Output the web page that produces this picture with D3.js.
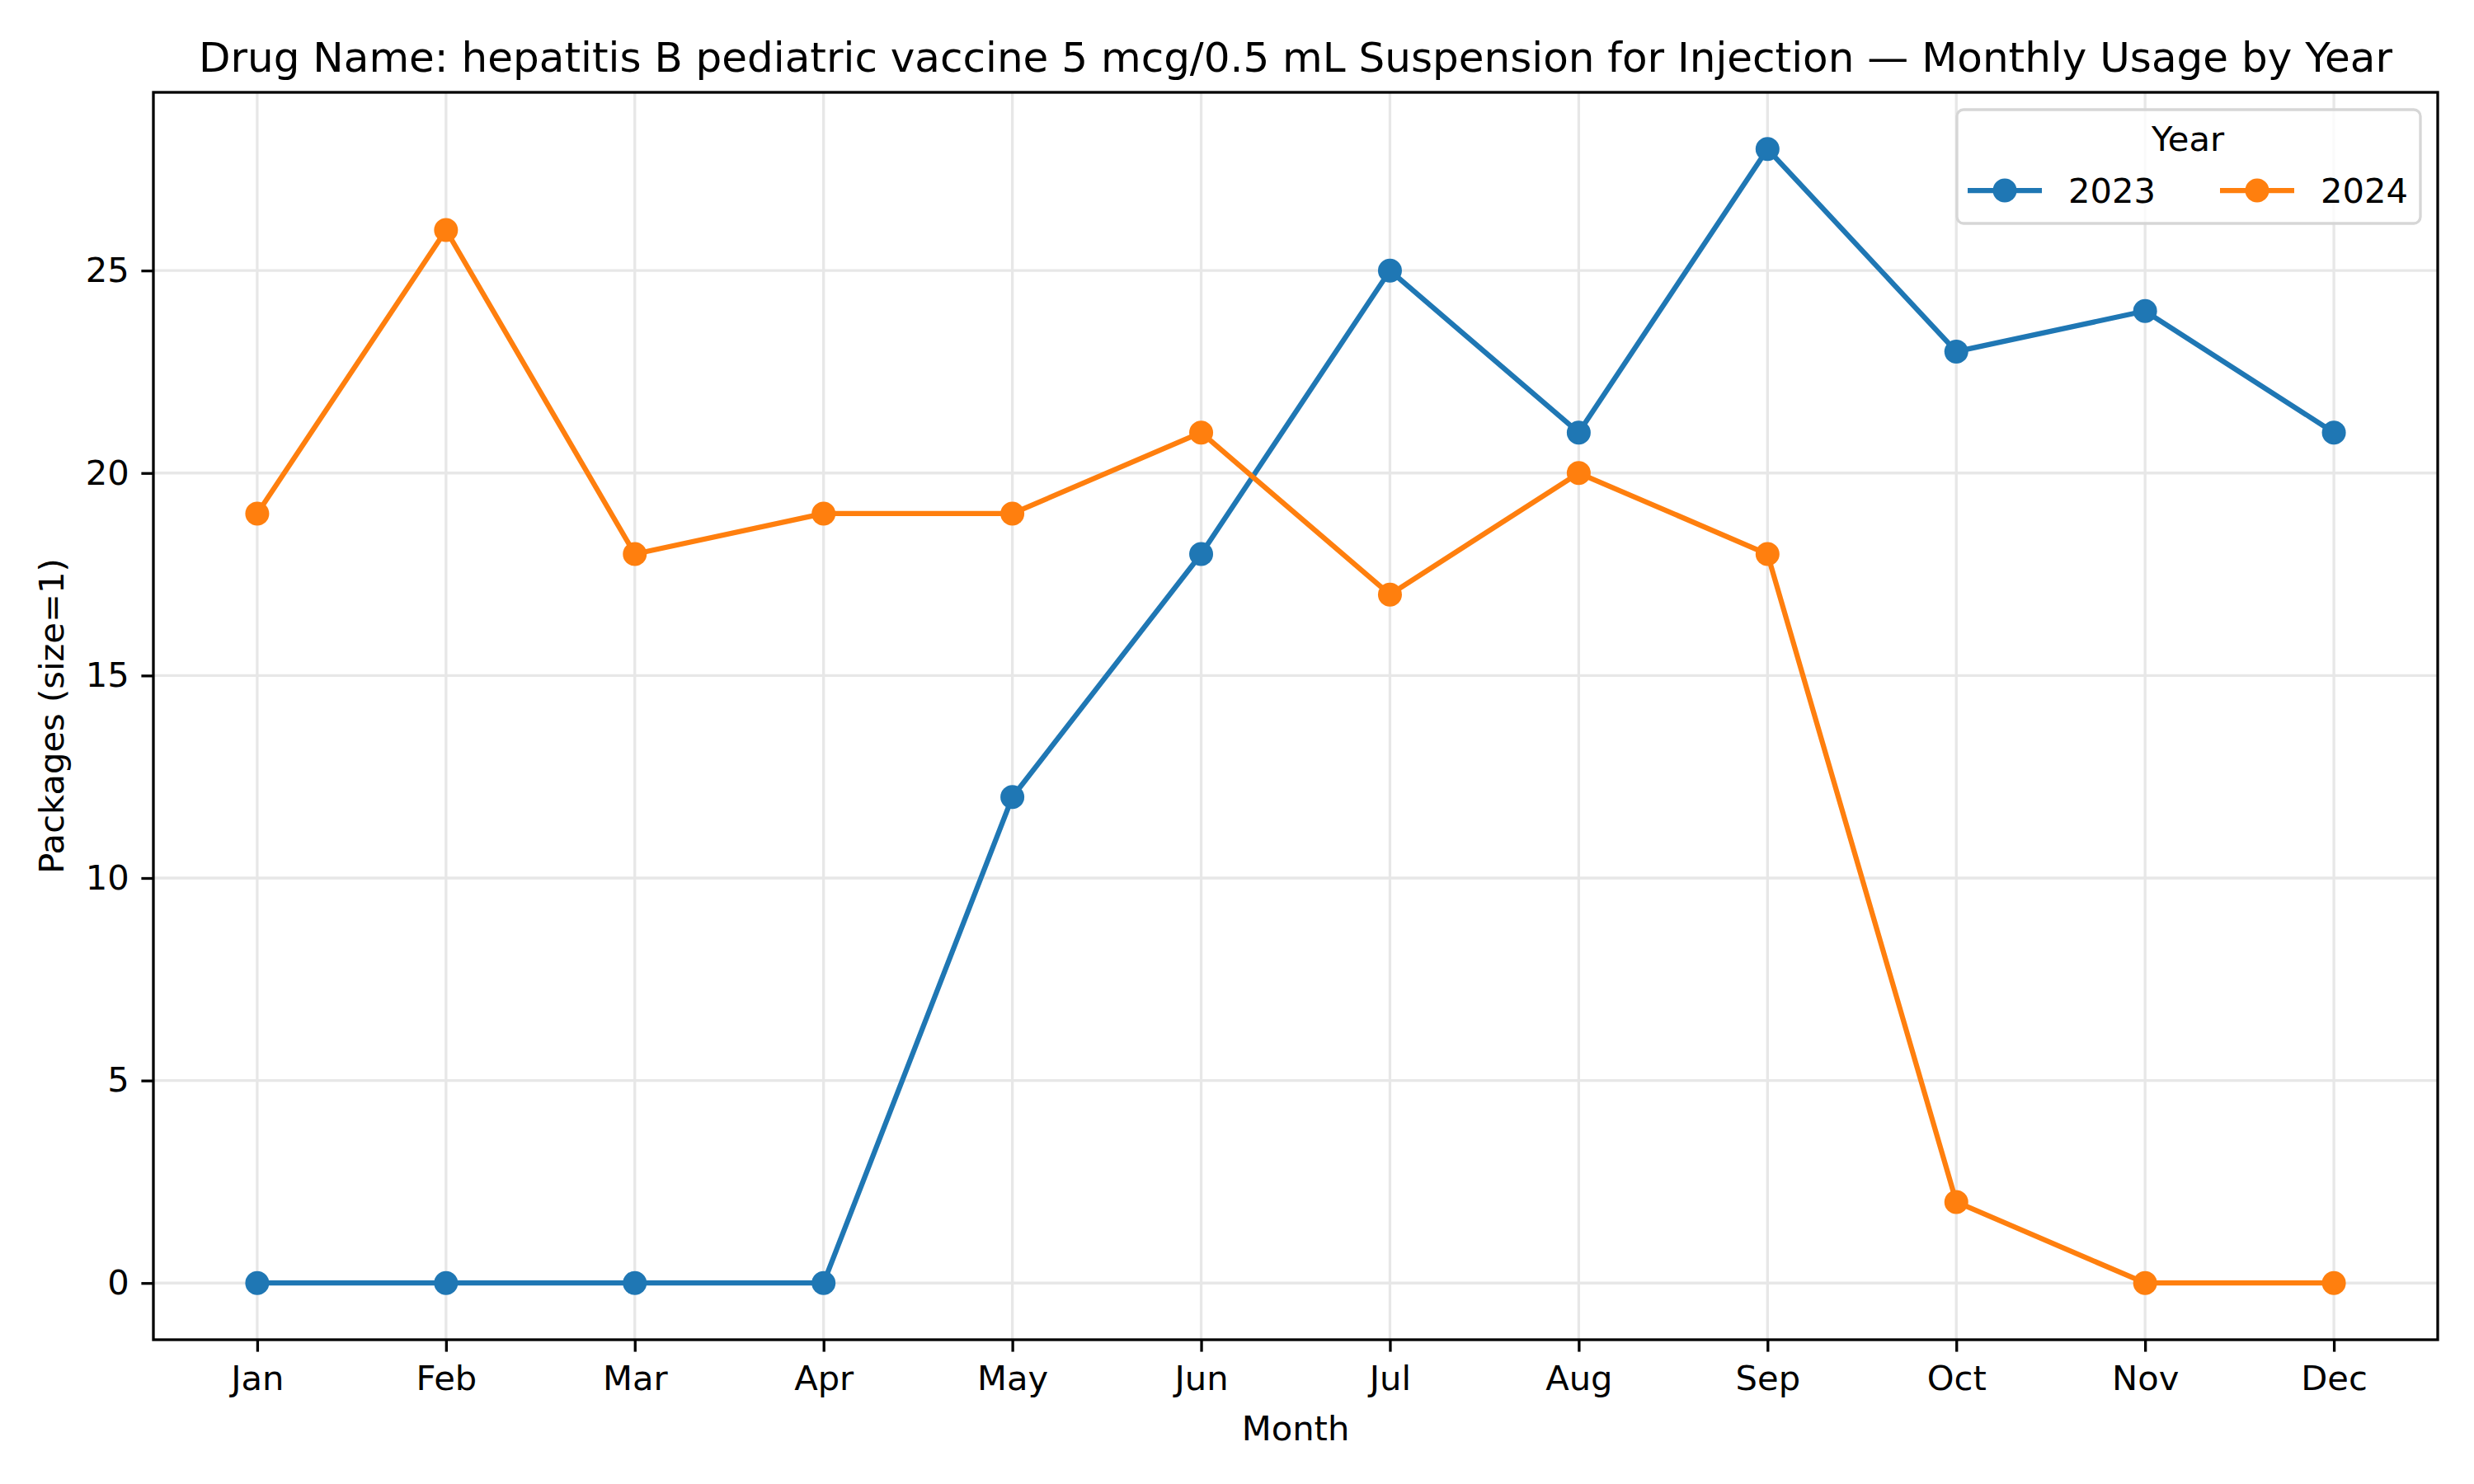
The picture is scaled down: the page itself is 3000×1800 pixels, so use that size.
<!DOCTYPE html>
<html>
<head>
<meta charset="utf-8">
<script src="https://cdn.jsdelivr.net/npm/d3@7"></script>
<style>
  body { margin: 0; background: #fff; }
  svg text { font-family: "DejaVu Sans", sans-serif; fill: #000; }
</style>
</head>
<body>
<div id="chart"></div>
<script>
/* monthly usage */
var months = ["Jan", "Feb", "Mar", "Apr", "May", "Jun", "Jul", "Aug", "Sep", "Oct", "Nov", "Dec"];
var years = ["2023", "2024"];
var usage2023 = [0, 0, 0, 0, 12, 18, 25, 21, 28, 23, 24, 21];
var usage2024 = [19, 26, 18, 19, 19, 21, 17, 20, 18, 2, 0, 0];
var yTicks = [0, 5, 10, 15, 20, 25];
var colors = ["#1f77b4", "#ff7f0e"];

var width = 3000,
	height = 1800,
	margin = { left: 186, right: 44, top: 112, bottom: 175 };

var svg = d3.select("#chart").append("svg")
	.attr("width", width)
	.attr("height", height);

var x = d3.scalePoint().domain(months)
	.range([margin.left, width - margin.right]).padding(0.55);
var y = d3.scaleLinear().domain([-1.4, 29.4])
	.range([height - margin.bottom, margin.top]);

var fs = 41.67;

/* grid */
var grid = svg.append("g").attr("class", "grid");
grid.selectAll("line.gx").data(months).enter().append("line")
	.attr("x1", function(d) { return x(d); }).attr("x2", function(d) { return x(d); })
	.attr("y1", y.range()[0]).attr("y2", y.range()[1])
	.style("stroke", "#e7e7e7").style("stroke-width", 3.3);
grid.selectAll("line.gy").data(yTicks).enter().append("line")
	.attr("y1", function(d) { return y(d); }).attr("y2", function(d) { return y(d); })
	.attr("x1", margin.left).attr("x2", width - margin.right)
	.style("stroke", "#e7e7e7").style("stroke-width", 3.3);

/* axes */
var xAxis = svg.append("g")
	.attr("transform", "translate(0," + y.range()[0] + ")")
	.call(d3.axisBottom(x).tickSize(14.6).tickPadding(14.6).tickSizeOuter(0));
var yAxis = svg.append("g")
	.attr("transform", "translate(" + margin.left + ",0)")
	.call(d3.axisLeft(y).tickValues(yTicks).tickSize(14.6).tickPadding(14.6).tickSizeOuter(0));
[xAxis, yAxis].forEach(function(a) {
	a.select(".domain").remove();
	a.selectAll(".tick line").style("stroke", "#000").style("stroke-width", 3.3);
	a.selectAll(".tick text").style("font-size", fs + "px").style("font-family", "DejaVu Sans");
});
xAxis.selectAll(".tick text").attr("dy", "0.76em");

/* series */
var line = d3.line()
	.x(function(d, i) { return x(months[i]); })
	.y(function(d) { return y(d); });

[usage2023, usage2024].forEach(function(series, k) {
	var g = svg.append("g");
	g.append("path").datum(series)
		.attr("d", line)
		.style("fill", "none")
		.style("stroke", colors[k])
		.style("stroke-width", 6.25)
		.style("stroke-linejoin", "round")
		.style("stroke-linecap", "square");
	g.selectAll("circle").data(series).enter().append("circle")
		.attr("cx", function(d, i) { return x(months[i]); })
		.attr("cy", function(d) { return y(d); })
		.attr("r", 14.5)
		.style("fill", colors[k]);
});

/* frame */
svg.append("rect")
	.attr("x", margin.left).attr("y", margin.top)
	.attr("width", width - margin.left - margin.right)
	.attr("height", height - margin.top - margin.bottom)
	.style("fill", "none").style("stroke", "#000").style("stroke-width", 3.3);

/* title + labels */
svg.append("text")
	.attr("x", (margin.left + width - margin.right) / 2).attr("y", 87)
	.attr("text-anchor", "middle").style("font-size", "50px")
	.text("Drug Name: hepatitis B pediatric vaccine 5 mcg/0.5 mL Suspension for Injection \u2014 Monthly Usage by Year");
svg.append("text")
	.attr("x", (margin.left + width - margin.right) / 2).attr("y", 1747)
	.attr("text-anchor", "middle").style("font-size", fs + "px")
	.text("Month");
svg.append("text")
	.attr("transform", "translate(77," + (margin.top + height - margin.bottom) / 2 + ") rotate(-90)")
	.attr("text-anchor", "middle").style("font-size", fs + "px")
	.text("Packages (size=1)");

/* legend */
var leg = svg.append("g").attr("class", "legend");
leg.append("rect")
	.attr("x", 2373).attr("y", 133).attr("width", 562).attr("height", 138)
	.attr("rx", 8).attr("ry", 8)
	.style("fill", "#fff").style("fill-opacity", 0.8)
	.style("stroke", "#d6d6d6").style("stroke-width", 3.3);
leg.append("text")
	.attr("x", 2653).attr("y", 183)
	.attr("text-anchor", "middle").style("font-size", fs + "px")
	.text("Year");
var item = leg.selectAll("g.item").data(years).enter().append("g")
	.attr("transform", function(d, i) { return "translate(" + (2386 + i * 306) + ",231)"; });
item.append("line")
	.attr("x1", 0).attr("x2", 90)
	.style("stroke", function(d, i) { return colors[i]; })
	.style("stroke-width", 6.25);
item.append("circle")
	.attr("cx", 45).attr("r", 14.5)
	.style("fill", function(d, i) { return colors[i]; });
item.append("text")
	.attr("x", 122).attr("y", 15)
	.style("font-size", fs + "px")
	.text(function(d) { return d; });
</script>
</body>
</html>
